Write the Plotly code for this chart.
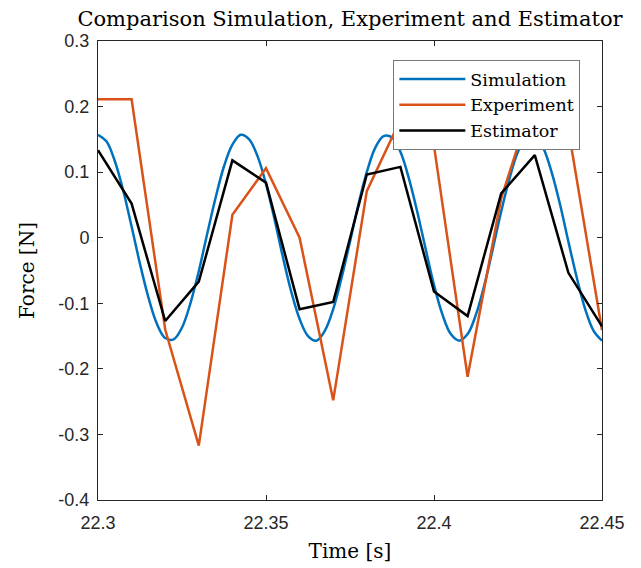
import plotly.graph_objects as go

sim_t = [22.3 + 0.0025 * k for k in range(61)]
sim_f = [0.157, 0.147, 0.117, 0.072, 0.017, -0.040, -0.091, -0.131, -0.153, -0.155,
         -0.137, -0.100, -0.051, 0.006, 0.061, 0.109, 0.142, 0.157, 0.150, 0.124,
         0.082, 0.029, -0.029, -0.082, -0.124, -0.150, -0.157, -0.142, -0.109, -0.061,
         -0.006, 0.051, 0.100, 0.137, 0.155, 0.153, 0.131, 0.091, 0.040, -0.017,
         -0.072, -0.117, -0.147, -0.157, -0.147, -0.117, -0.072, -0.017, 0.040, 0.091,
         0.131, 0.153, 0.155, 0.137, 0.100, 0.051, -0.006, -0.061, -0.109, -0.142,
         -0.157]

# Experiment and estimator (sampled every 10 ms)
samp_t = [22.30, 22.31, 22.32, 22.33, 22.34, 22.35, 22.36, 22.37,
          22.38, 22.39, 22.40, 22.41, 22.42, 22.43, 22.44, 22.45]
exp_f = [0.211, 0.211, -0.14, -0.317, 0.035, 0.106, 0.0, -0.248,
         0.071, 0.18, 0.14, -0.212, 0.06, 0.22, 0.165, -0.141]
est_f = [0.1335, 0.052, -0.127, -0.067, 0.118, 0.084, -0.109, -0.098,
         0.0965, 0.108, -0.082, -0.1195, 0.0675, 0.126, -0.0535, -0.135]

x_ticks = [22.3, 22.35, 22.4, 22.45]
x_labels = ["22.3", "22.35", "22.4", "22.45"]
y_ticks = [-0.4, -0.3, -0.2, -0.1, 0, 0.1, 0.2, 0.3]
y_labels = ["-0.4", "-0.3", "-0.2", "-0.1", "0", "0.1", "0.2", "0.3"]

serif = "DejaVu Serif"
sans = "Liberation Sans"
axc = "#262626"

fig = go.Figure()
fig.add_trace(go.Scatter(x=sim_t, y=sim_f, mode="lines", name="Simulation",
                         line=dict(color="#0072BD", width=2.5, shape="spline")))
fig.add_trace(go.Scatter(x=samp_t, y=exp_f, mode="lines", name="Experiment",
                         line=dict(color="#D95319", width=2.5)))
fig.add_trace(go.Scatter(x=samp_t, y=est_f, mode="lines", name="Estimator",
                         line=dict(color="#000000", width=2.5)))

fig.update_layout(
    width=641, height=568,
    margin=dict(l=98, r=39, t=41, b=68, autoexpand=False),
    paper_bgcolor="white", plot_bgcolor="white",
    title=dict(text="Comparison Simulation, Experiment and Estimator",
               x=0.5, xref="paper", xanchor="center",
               y=1 - 19 / 568, yref="container", yanchor="middle",
               font=dict(family=serif, size=21, color="black")),
    legend=dict(x=0.586, y=0.9586, xanchor="left", yanchor="top",
                bgcolor="white", bordercolor="#777777", borderwidth=1,
                font=dict(family=serif, size=17.5, color="black"),
                itemwidth=66, tracegroupgap=0),
    showlegend=True,
)
fig.update_xaxes(range=[22.3, 22.45], tickvals=x_ticks, ticktext=x_labels,
                 showgrid=False, zeroline=False, showline=True, linecolor=axc,
                 linewidth=1, mirror="ticks", ticks="inside", ticklen=5,
                 tickcolor=axc, tickfont=dict(family=sans, size=18, color=axc),
                 ticklabelstandoff=6, automargin=False,
                 title=dict(text="Time [s]", standoff=12,
                            font=dict(family=serif, size=20, color="black")))
fig.update_yaxes(range=[-0.4, 0.3], tickvals=y_ticks, ticktext=y_labels,
                 showgrid=False, zeroline=False, showline=True, linecolor=axc,
                 linewidth=1, mirror="ticks", ticks="inside", ticklen=5,
                 tickcolor=axc, tickfont=dict(family=sans, size=18, color=axc),
                 ticklabelstandoff=4, automargin=False,
                 title=dict(text="Force [N]", standoff=18,
                            font=dict(family=serif, size=20, color="black")))

fig.write_html("out.html")
